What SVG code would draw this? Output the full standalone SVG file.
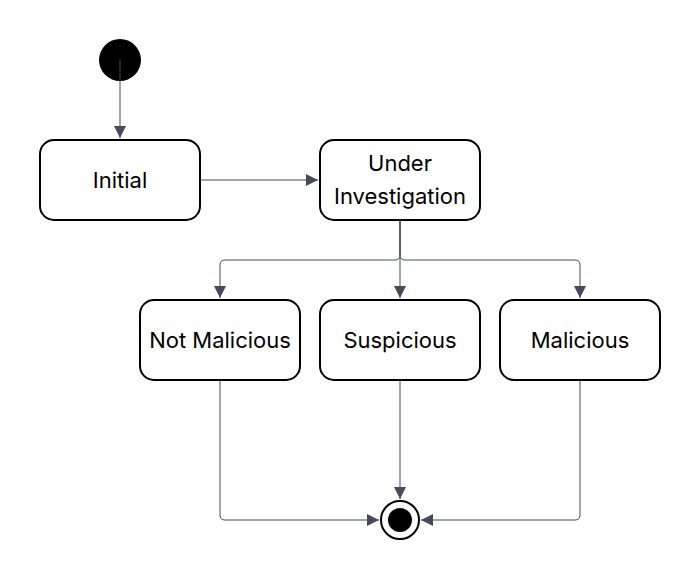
<svg xmlns="http://www.w3.org/2000/svg" width="700" height="580" viewBox="0 0 700 580">
<defs>
<style>
.node rect{fill:#fff;stroke:#000;stroke-width:2}
.node text{font-family:Inter,"Liberation Sans",sans-serif;font-size:22px;fill:#000;text-anchor:middle}
.edges path{fill:none;stroke:#444b5a;stroke-width:1}
</style>
<marker id="arr" viewBox="0 0 10 10" refX="10" refY="5" markerWidth="12" markerHeight="12" markerUnits="userSpaceOnUse" orient="auto">
<path d="M0,0 L10,5 L0,10 z" fill="#444b5a"/>
</marker>
</defs>
<rect width="700" height="580" fill="#fff"/>
<g id="start"><circle cx="120" cy="60" r="21" fill="#000"/></g>
<g id="initial" class="node"><rect x="40" y="140" width="160" height="80" rx="14"/><text x="120" y="188">Initial</text></g>
<g id="under" class="node"><rect x="320" y="140" width="160" height="80" rx="14"/><text x="400" y="171">Under</text><text x="400" y="204">Investigation</text></g>
<g id="notmal" class="node"><rect x="140" y="300" width="160" height="80" rx="14"/><text x="220" y="348">Not Malicious</text></g>
<g id="susp" class="node"><rect x="320" y="300" width="160" height="80" rx="14"/><text x="400" y="348">Suspicious</text></g>
<g id="mal" class="node"><rect x="500" y="300" width="160" height="80" rx="14"/><text x="580" y="348">Malicious</text></g>
<g id="end"><circle cx="400" cy="520" r="19" fill="#fff" stroke="#000" stroke-width="2"/><circle cx="400" cy="520" r="12" fill="#000"/></g>
<g class="edges">
<path d="M120,60 L120,138" marker-end="url(#arr)"/>
<path d="M200,180 L318,180" marker-end="url(#arr)"/>
<path d="M400,220 L400,255 Q400,260 395,260 L225,260 Q220,260 220,265 L220,298" marker-end="url(#arr)"/>
<path d="M400,220 L400,298" marker-end="url(#arr)"/>
<path d="M400,220 L400,255 Q400,260 405,260 L575,260 Q580,260 580,265 L580,298" marker-end="url(#arr)"/>
<path d="M220,380 L220,515 Q220,520 225,520 L379,520" marker-end="url(#arr)"/>
<path d="M400,380 L400,499" marker-end="url(#arr)"/>
<path d="M580,380 L580,515 Q580,520 575,520 L421,520" marker-end="url(#arr)"/>
</g>
</svg>
